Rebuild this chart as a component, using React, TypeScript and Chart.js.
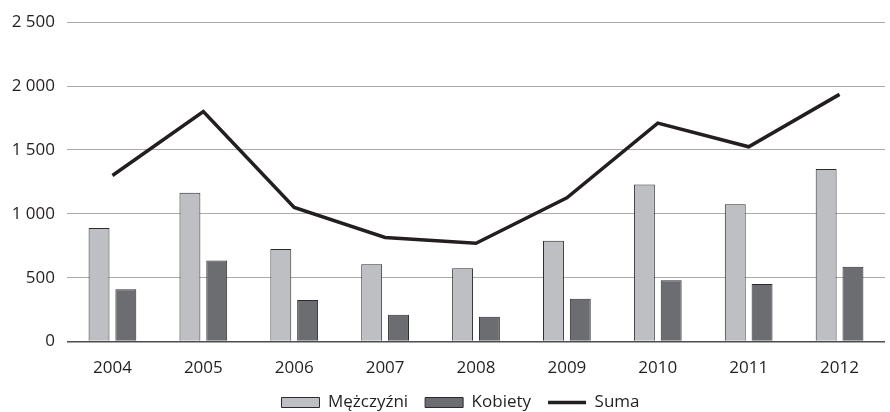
import React, { useEffect, useRef } from "react";
import { Chart, registerables } from "chart.js";

Chart.register(...registerables);

const years = ["2004", "2005", "2006", "2007", "2008", "2009", "2010", "2011", "2012"];
const men = [890, 1165, 725, 605, 575, 790, 1230, 1075, 1350];
const women = [410, 635, 325, 210, 195, 335, 480, 450, 585];
const total = [1300, 1800, 1050, 815, 770, 1125, 1710, 1525, 1935];
const seriesNames = ["Mężczyźni", "Kobiety", "Suma"];

const fmt = (v: number) => String(v).replace(/\B(?=(\d{3})+(?!\d))/g, " ");

const legendShift = {
  id: "legendShift",
  afterLayout(chart: any) {
    const lg = chart.legend;
    if (lg) {
      lg.left += 18;
      lg.right += 18;
      lg.top -= 9;
      lg.bottom -= 9;
    }
  },
};

export default function App() {
  const ref = useRef<HTMLCanvasElement | null>(null);
  useEffect(() => {
    document.body.style.margin = "0";
    const font = { family: "'Open Sans', sans-serif", size: 17 };
    const chart = new Chart(ref.current!, {
      type: "bar",
      data: {
        labels: years,
        datasets: [
          {
            type: "bar",
            label: seriesNames[0],
            data: men,
            backgroundColor: "#bebfc3",
            borderColor: "#2b2b2b",
            borderWidth: 1,
            barPercentage: 0.78,
            categoryPercentage: 0.59,
            pointStyle: "rect",
          },
          {
            type: "bar",
            label: seriesNames[1],
            data: women,
            backgroundColor: "#6c6d70",
            borderColor: "#2b2b2b",
            borderWidth: 1,
            barPercentage: 0.78,
            categoryPercentage: 0.59,
            pointStyle: "rect",
          },
          {
            type: "line",
            label: seriesNames[2],
            data: total,
            borderColor: "#231f20",
            backgroundColor: "#231f20",
            borderWidth: 3.5,
            pointRadius: 0,
            tension: 0,
            pointStyle: "line",
          },
        ],
      },
      plugins: [legendShift],
      options: {
        animation: false,
        responsive: false,
        maintainAspectRatio: false,
        layout: { padding: { top: 13, right: 5, left: 0, bottom: -18 } },
        plugins: {
          tooltip: { enabled: false },
          legend: {
            position: "bottom",
            labels: {
              usePointStyle: true,
              pointStyleWidth: 38,
              boxHeight: 10,
              padding: 17,
              color: "#231f20",
              font,
            },
          },
        },
        scales: {
          x: {
            grid: { display: false },
            border: { display: false },
            ticks: { color: "#231f20", font, padding: 8 },
          },
          y: {
            min: 0,
            max: 2500,
            afterFit: (s: any) => {
              s.width = 67;
            },
            border: { display: false },
            grid: {
              color: (c: any) => (c.tick && c.tick.value === 0 ? "#4d4d4d" : "#ababab"),
              lineWidth: (c: any) => (c.tick && c.tick.value === 0 ? 1.5 : 1),
              drawTicks: false,
            },
            ticks: {
              stepSize: 500,
              color: "#231f20",
              font,
              padding: 12,
              callback: (v: any) => fmt(Number(v)),
            },
          },
        },
      },
    });
    return () => chart.destroy();
  }, []);
  return (
    <div style={{ width: 890, height: 412 }}>
      <canvas ref={ref} width={890} height={412} style={{ display: "block" }} />
    </div>
  );
}
